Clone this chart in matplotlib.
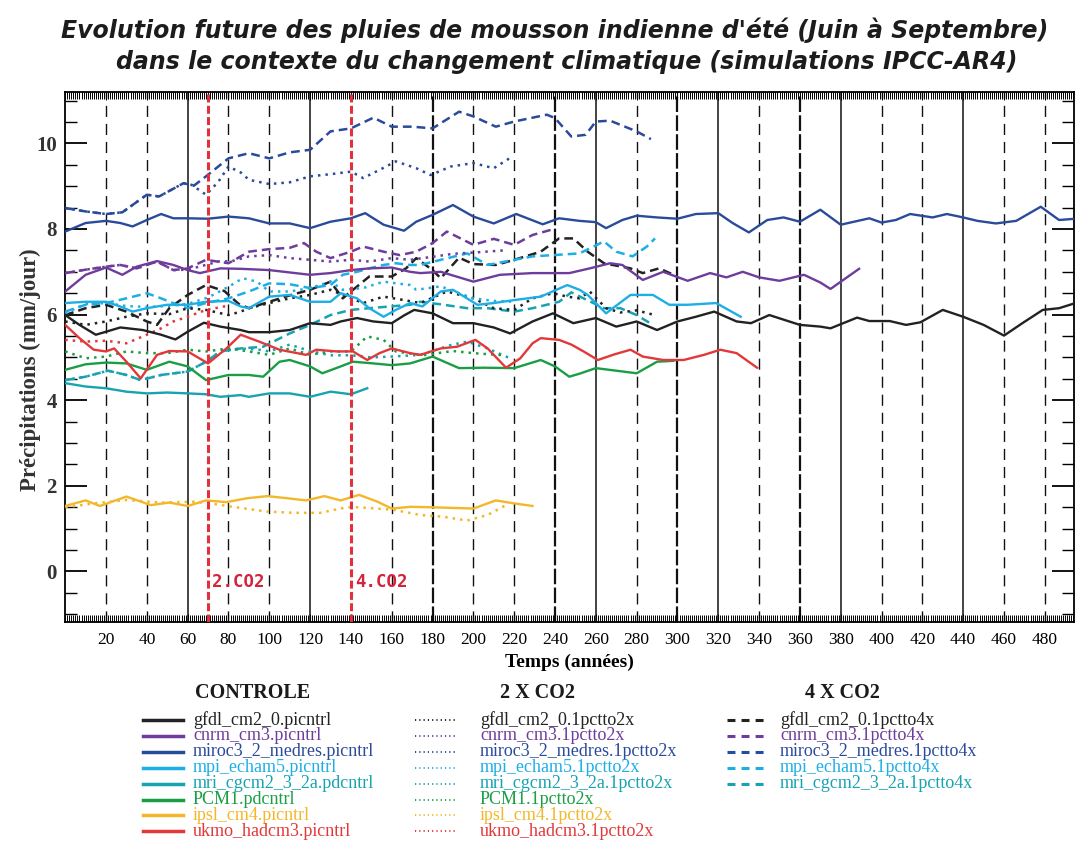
import matplotlib
matplotlib.use("Agg")
import matplotlib.pyplot as plt
from matplotlib.lines import Line2D
from matplotlib.ticker import MultipleLocator, FixedLocator

W, H = 1075, 841

# couleurs des modeles
C_GFDL = "#222222"
C_CNRM = "#6e3c9c"
C_MIROC = "#2a4a9a"
C_MPI = "#1eaee6"
C_MRI = "#17a3b0"
C_PCM = "#1a9e45"
C_IPSL = "#f2b829"
C_UKMO = "#e2383a"

# ---------------- CONTROLE ----------------
gfdl_ctl_t = [0, 7, 15, 20, 27, 38, 47, 54, 60, 68, 76, 86, 90, 100, 110, 120, 130, 135, 143, 151,
              160, 166, 171, 180, 190, 200, 210, 218, 229, 239, 249, 260, 270, 280, 290, 300, 309, 318, 329, 336,
              345, 360, 370, 375, 388, 394, 404, 412, 419, 430, 440, 450, 460, 469, 479, 487, 495]
gfdl_ctl_v = [5.99, 5.76, 5.53, 5.60, 5.70, 5.64, 5.53, 5.42, 5.60, 5.81, 5.72, 5.64, 5.59, 5.59, 5.64, 5.80, 5.76, 5.84, 5.92, 5.84,
              5.80, 5.98, 6.11, 6.03, 5.80, 5.80, 5.70, 5.56, 5.84, 6.03, 5.80, 5.92, 5.72, 5.84, 5.64, 5.84, 5.95, 6.07, 5.84, 5.80,
              5.99, 5.76, 5.72, 5.68, 5.93, 5.85, 5.85, 5.76, 5.82, 6.11, 5.95, 5.76, 5.51, 5.80, 6.11, 6.15, 6.27]

cnrm_ctl_t = [0, 10, 20, 28, 35, 45, 53, 60, 66, 76, 86, 100, 120, 130, 140, 149, 160, 169, 174, 184,
              200, 213, 229, 247, 257, 267, 273, 283, 293, 305, 316, 324, 332, 340, 350, 362, 370, 375, 389]
cnrm_ctl_v = [6.54, 6.93, 7.10, 6.93, 7.12, 7.25, 7.16, 7.04, 6.97, 7.08, 7.07, 7.04, 6.93, 6.97, 7.04, 7.08, 7.10, 7.00, 6.97, 7.00,
              6.77, 6.93, 6.97, 6.97, 7.08, 7.20, 7.16, 6.81, 7.00, 6.79, 6.97, 6.87, 7.00, 6.87, 6.79, 6.93, 6.75, 6.60, 7.07]

miroc_ctl_t = [0, 10, 20, 27, 33, 40, 47, 53, 60, 70, 80, 90, 100, 110, 120, 130, 140, 147, 156, 166,
               172, 180, 190, 200, 210, 221, 234, 242, 252, 260, 265, 273, 280, 290, 300, 309, 320, 327, 335, 344,
               352, 360, 370, 380, 394, 400, 407, 414, 425, 432, 440, 447, 456, 466, 478, 487, 495]
miroc_ctl_v = [7.94, 8.14, 8.19, 8.14, 8.06, 8.21, 8.35, 8.25, 8.25, 8.24, 8.29, 8.25, 8.13, 8.13, 8.02, 8.17, 8.25, 8.37, 8.10, 7.96,
               8.17, 8.33, 8.56, 8.29, 8.13, 8.35, 8.11, 8.25, 8.19, 8.16, 8.02, 8.21, 8.31, 8.27, 8.24, 8.35, 8.37, 8.14, 7.92, 8.21,
               8.27, 8.17, 8.45, 8.10, 8.25, 8.15, 8.21, 8.35, 8.27, 8.35, 8.27, 8.19, 8.13, 8.19, 8.52, 8.21, 8.24]

mpi_ctl_t = [0, 10, 20, 27, 33, 40, 50, 60, 69, 80, 86, 90, 100, 110, 120, 130, 135, 143, 149, 156,
             162, 169, 175, 184, 190, 202, 210, 220, 233, 246, 252, 256, 265, 277, 288, 296, 305, 319, 331]
mpi_ctl_v = [6.27, 6.30, 6.30, 6.19, 6.07, 6.15, 6.23, 6.23, 6.30, 6.32, 6.19, 6.15, 6.42, 6.46, 6.30, 6.30, 6.50, 6.38, 6.15, 5.95,
             6.11, 6.27, 6.19, 6.54, 6.58, 6.23, 6.27, 6.34, 6.42, 6.69, 6.58, 6.46, 6.03, 6.46, 6.46, 6.23, 6.23, 6.27, 5.95]

mri_ctl_t = [0, 10, 20, 30, 40, 50, 60, 69, 76, 86, 90, 100, 110, 120, 130, 140, 148]
mri_ctl_v = [4.40, 4.32, 4.28, 4.20, 4.16, 4.18, 4.16, 4.14, 4.08, 4.12, 4.08, 4.16, 4.16, 4.08, 4.20, 4.14, 4.28]

pcm_ctl_t = [0, 10, 20, 30, 40, 51, 60, 69, 80, 90, 97, 105, 110, 120, 126, 135, 141, 151, 160, 169,
             180, 193, 205, 220, 233, 240, 247, 252, 260, 280, 290, 298]
pcm_ctl_v = [4.71, 4.84, 4.88, 4.86, 4.71, 4.90, 4.79, 4.47, 4.59, 4.59, 4.55, 4.90, 4.94, 4.79, 4.63, 4.79, 4.90, 4.86, 4.82, 4.86,
             5.02, 4.75, 4.76, 4.75, 4.94, 4.79, 4.55, 4.62, 4.75, 4.63, 4.90, 4.92]

ipsl_ctl_t = [0, 10, 17, 30, 42, 51, 60, 69, 79, 89, 99, 109, 118, 127, 135, 144, 153, 160, 169, 180,
              200, 211, 220, 229]
ipsl_ctl_v = [1.53, 1.66, 1.53, 1.75, 1.55, 1.61, 1.53, 1.66, 1.62, 1.71, 1.76, 1.71, 1.66, 1.76, 1.66, 1.79, 1.63, 1.47, 1.51, 1.50,
              1.47, 1.66, 1.59, 1.53]

ukmo_ctl_t = [0, 7, 14, 20, 24, 30, 37, 45, 51, 60, 70, 79, 86, 95, 105, 118, 123, 133, 141, 148,
              154, 160, 169, 174, 184, 192, 201, 207, 216, 223, 229, 233, 242, 248, 254, 261, 269, 277, 283, 293,
              303, 313, 321, 329, 339]
ukmo_ctl_v = [5.76, 5.45, 5.18, 5.14, 5.21, 4.90, 4.51, 5.06, 5.15, 5.14, 4.86, 5.21, 5.53, 5.37, 5.18, 5.06, 5.18, 5.14, 5.14, 4.94,
              5.10, 5.21, 5.10, 5.06, 5.21, 5.25, 5.41, 5.21, 4.76, 4.98, 5.33, 5.45, 5.41, 5.30, 5.14, 4.94, 5.07, 5.18, 5.02, 4.94,
              4.94, 5.06, 5.18, 5.10, 4.76]

# ---------------- 2 X CO2 ----------------
gfdl_2x_t = [0, 10, 20, 30, 40, 51, 60, 69, 80, 86, 90, 100, 110, 120, 130, 136, 146, 156, 166, 174,
             187, 200, 210, 220, 229, 239, 246, 252, 257, 265, 272, 280, 288]
gfdl_2x_v = [5.84, 5.76, 5.84, 5.95, 6.03, 6.01, 6.15, 6.11, 5.99, 6.07, 6.15, 6.27, 6.38, 6.46, 6.58, 6.46, 6.27, 6.42, 6.34, 6.27,
             6.54, 6.38, 6.15, 6.11, 6.38, 6.50, 6.42, 6.38, 6.54, 6.15, 6.05, 6.10, 6.00]

cnrm_2x_t = [0, 10, 20, 27, 35, 45, 53, 60, 68, 76, 81, 90, 100, 110, 120, 130, 140, 149, 160, 169,
             180, 190, 200, 215]
cnrm_2x_v = [6.97, 7.05, 7.12, 7.16, 7.08, 7.24, 7.04, 7.05, 7.15, 7.25, 7.24, 7.36, 7.39, 7.32, 7.28, 7.24, 7.28, 7.24, 7.32, 7.28,
             7.35, 7.42, 7.45, 7.50]

miroc_2x_t = [0, 10, 20, 28, 40, 46, 58, 62, 69, 75, 80, 86, 90, 100, 110, 120, 130, 140, 146, 154,
              162, 172, 179, 189, 200, 210, 219]
miroc_2x_v = [8.49, 8.41, 8.35, 8.39, 8.80, 8.76, 9.07, 9.03, 8.80, 9.10, 9.46, 9.32, 9.15, 9.05, 9.09, 9.23, 9.28, 9.34, 9.19, 9.38,
              9.58, 9.42, 9.26, 9.46, 9.54, 9.42, 9.69]

mpi_2x_t = [0, 10, 20, 30, 40, 50, 60, 70, 80, 87, 94, 100, 110, 120, 130, 136, 146, 156, 169, 172,
            184, 193, 200, 210, 220]
mpi_2x_v = [6.03, 6.25, 6.27, 6.20, 6.18, 6.20, 6.25, 6.40, 6.65, 6.85, 6.77, 6.54, 6.54, 6.62, 6.77, 6.58, 6.62, 6.77, 6.69, 6.58,
            6.66, 6.50, 6.38, 6.32, 6.30]

mri_2x_t = [0, 10, 21, 30, 37, 47, 60, 69, 76, 86, 95, 100, 110, 120, 130, 140, 150, 160, 174, 189,
            197, 207, 218]
mri_2x_v = [4.47, 4.55, 4.69, 4.59, 4.47, 4.59, 4.67, 4.90, 5.14, 5.21, 5.18, 5.14, 5.30, 5.15, 5.05, 5.05, 5.00, 5.02, 5.06, 5.29,
            5.37, 5.21, 4.98]

pcm_2x_t = [0, 10, 20, 30, 40, 50, 60, 69, 80, 90, 100, 110, 120, 130, 140, 148, 156, 162, 175, 190,
            200, 215]
pcm_2x_v = [5.14, 4.98, 5.02, 5.14, 5.10, 5.10, 5.18, 5.14, 5.21, 5.14, 5.06, 5.21, 5.06, 5.14, 5.14, 5.49, 5.41, 5.14, 5.05, 5.15,
            5.10, 5.05]

ipsl_2x_t = [0, 14, 30, 47, 63, 71, 82, 99, 112, 125, 138, 144, 161, 174, 185, 197, 207, 216]
ipsl_2x_v = [1.50, 1.59, 1.67, 1.61, 1.63, 1.59, 1.51, 1.40, 1.37, 1.37, 1.50, 1.50, 1.44, 1.32, 1.28, 1.19, 1.32, 1.55]

ukmo_2x_t = [0, 10, 20, 30, 40, 47, 53, 60, 69, 79]
ukmo_2x_v = [5.41, 5.37, 5.39, 5.33, 5.53, 5.68, 5.84, 5.95, 6.11, 6.20]

# ---------------- 4 X CO2 ----------------
gfdl_4x_t = [0, 10, 20, 30, 40, 45, 51, 60, 69, 78, 85, 90, 100, 110, 120, 130, 136, 140, 149, 160,
             167, 172, 180, 184, 193, 200, 211, 220, 233, 242, 249, 256, 264, 277, 283, 291, 300]
gfdl_4x_v = [5.99, 6.15, 6.23, 6.07, 5.84, 5.76, 6.15, 6.46, 6.69, 6.55, 6.25, 6.15, 6.30, 6.45, 6.58, 6.77, 6.38, 6.54, 6.89, 6.89,
             7.08, 7.32, 7.04, 6.85, 7.33, 7.18, 7.16, 7.28, 7.47, 7.78, 7.78, 7.47, 7.20, 7.08, 6.97, 7.08, 6.89]

cnrm_4x_t = [0, 10, 20, 27, 35, 45, 53, 60, 69, 80, 86, 90, 100, 110, 117, 123, 130, 140, 146, 156,
             164, 172, 180, 187, 200, 210, 220, 229, 238]
cnrm_4x_v = [6.97, 7.05, 7.12, 7.16, 7.08, 7.24, 7.04, 7.08, 7.28, 7.20, 7.36, 7.47, 7.53, 7.56, 7.67, 7.47, 7.32, 7.47, 7.59, 7.47,
             7.39, 7.47, 7.67, 7.94, 7.63, 7.77, 7.63, 7.86, 7.98]

miroc_4x_t = [0, 10, 20, 28, 40, 46, 58, 63, 69, 80, 90, 100, 110, 120, 130, 140, 151, 160, 170, 180,
              193, 200, 211, 220, 236, 240, 248, 255, 260, 267, 280, 287]
miroc_4x_v = [8.49, 8.41, 8.35, 8.39, 8.80, 8.76, 9.07, 9.01, 9.23, 9.65, 9.77, 9.65, 9.79, 9.85, 10.28, 10.35, 10.60, 10.39, 10.39, 10.35,
              10.74, 10.63, 10.39, 10.51, 10.67, 10.59, 10.16, 10.20, 10.51, 10.53, 10.28, 10.10]

mpi_4x_t = [0, 10, 20, 30, 40, 47, 55, 60, 69, 80, 90, 100, 110, 120, 130, 136, 143, 149, 156, 162,
            169, 174, 184, 197, 207, 220, 229, 239, 252, 264, 270, 278, 285, 289]
mpi_4x_v = [6.07, 6.23, 6.27, 6.38, 6.50, 6.38, 6.23, 6.15, 6.27, 6.38, 6.54, 6.73, 6.71, 6.62, 6.69, 6.93, 7.00, 7.08, 7.16, 7.20,
            7.16, 7.16, 7.28, 7.43, 7.16, 7.28, 7.36, 7.39, 7.43, 7.71, 7.47, 7.36, 7.59, 7.78]

mri_4x_t = [0, 10, 21, 30, 37, 47, 60, 69, 76, 86, 97, 102, 110, 120, 130, 140, 149, 159, 169, 174,
            184, 197, 207, 220, 229, 242, 248, 254, 264, 272, 280, 288]
mri_4x_v = [4.47, 4.55, 4.69, 4.59, 4.47, 4.59, 4.67, 4.90, 5.14, 5.21, 5.25, 5.37, 5.56, 5.76, 5.99, 6.11, 6.15, 6.19, 6.23, 6.30,
            6.24, 6.15, 6.15, 6.07, 6.15, 6.30, 6.52, 6.38, 6.15, 6.15, 5.99, 5.76]

controle = [
    ("gfdl_cm2_0.picntrl", gfdl_ctl_t, gfdl_ctl_v, C_GFDL),
    ("cnrm_cm3.picntrl", cnrm_ctl_t, cnrm_ctl_v, C_CNRM),
    ("miroc3_2_medres.picntrl", miroc_ctl_t, miroc_ctl_v, C_MIROC),
    ("mpi_echam5.picntrl", mpi_ctl_t, mpi_ctl_v, C_MPI),
    ("mri_cgcm2_3_2a.pdcntrl", mri_ctl_t, mri_ctl_v, C_MRI),
    ("PCM1.pdcntrl", pcm_ctl_t, pcm_ctl_v, C_PCM),
    ("ipsl_cm4.picntrl", ipsl_ctl_t, ipsl_ctl_v, C_IPSL),
    ("ukmo_hadcm3.picntrl", ukmo_ctl_t, ukmo_ctl_v, C_UKMO),
]
co2_2x = [
    ("gfdl_cm2_0.1pctto2x", gfdl_2x_t, gfdl_2x_v, C_GFDL),
    ("cnrm_cm3.1pctto2x", cnrm_2x_t, cnrm_2x_v, C_CNRM),
    ("miroc3_2_medres.1pctto2x", miroc_2x_t, miroc_2x_v, C_MIROC),
    ("mpi_echam5.1pctto2x", mpi_2x_t, mpi_2x_v, C_MPI),
    ("mri_cgcm2_3_2a.1pctto2x", mri_2x_t, mri_2x_v, C_MRI),
    ("PCM1.1pctto2x", pcm_2x_t, pcm_2x_v, C_PCM),
    ("ipsl_cm4.1pctto2x", ipsl_2x_t, ipsl_2x_v, C_IPSL),
    ("ukmo_hadcm3.1pctto2x", ukmo_2x_t, ukmo_2x_v, C_UKMO),
]
co2_4x = [
    ("gfdl_cm2_0.1pctto4x", gfdl_4x_t, gfdl_4x_v, C_GFDL),
    ("cnrm_cm3.1pctto4x", cnrm_4x_t, cnrm_4x_v, C_CNRM),
    ("miroc3_2_medres.1pctto4x", miroc_4x_t, miroc_4x_v, C_MIROC),
    ("mpi_echam5.1pctto4x", mpi_4x_t, mpi_4x_v, C_MPI),
    ("mri_cgcm2_3_2a.1pctto4x", mri_4x_t, mri_4x_v, C_MRI),
]

# annees des lignes verticales
grid_solid = [60, 120, 260, 320, 380, 440]
grid_heavy = [180, 240, 300, 360]
grid_dash = [20, 40, 80, 100, 160, 200, 220, 280, 340, 400, 420, 460, 480]
co2_marks = [(70, "2.CO2"), (140, "4.CO2")]

STYLE_CTL = dict(linestyle="-", linewidth=1.7)
STYLE_2X = dict(linestyle=(0, (1, 2)), linewidth=1.8)
STYLE_4X = dict(linestyle=(0, (3.5, 2)), linewidth=1.8)

SERIF = ["Liberation Serif", "DejaVu Serif"]

fig = plt.figure(figsize=(W / 100, H / 100), dpi=100)
ax = fig.add_axes([65.2 / W, 1 - 622 / H, (1074 - 65.2) / W, 530 / H])
ax.set_xlim(0, 494.3)
ax.set_ylim(-1.18, 11.2)

for x in grid_solid:
    ax.axvline(x, color="#111111", lw=1.1, zorder=1)
for x in grid_heavy:
    ax.axvline(x, color="#111111", lw=1.6, ls=(0, (7, 1.5)), zorder=1)
for x in grid_dash:
    ax.axvline(x, color="#111111", lw=1.0, ls=(0, (8, 5)), zorder=1)
for x, lab in co2_marks:
    ax.axvline(x, color="#e4303a", lw=2.2, ls=(0, (2.6, 1.1)), zorder=5)
    ax.text(x + 2, -0.25, lab, color="#d4233a", fontsize=12.5, fontweight="bold",
            family="DejaVu Sans Mono", va="center", ha="left", zorder=6)

for lab, t, v, c in co2_4x:
    ax.plot(t, v, color=c, zorder=3, **STYLE_4X)
for lab, t, v, c in co2_2x:
    ax.plot(t, v, color=c, zorder=3, **STYLE_2X)
for lab, t, v, c in controle:
    ax.plot(t, v, color=c, zorder=4, **STYLE_CTL)

# ticks
ax.xaxis.set_major_locator(FixedLocator(range(20, 481, 20)))
ax.xaxis.set_minor_locator(MultipleLocator(1))
ax.yaxis.set_major_locator(FixedLocator([0, 2, 4, 6, 8, 10]))
ax.yaxis.set_minor_locator(MultipleLocator(0.5))
ax.tick_params(axis="x", which="both", direction="in", top=True, bottom=True, pad=7)
ax.tick_params(axis="x", which="major", length=6, width=0.8)
ax.tick_params(axis="x", which="minor", length=5, width=0.7)
ax.tick_params(axis="y", which="both", direction="in", left=True, right=True, pad=6)
ax.tick_params(axis="y", which="major", length=16, width=1.3)
ax.tick_params(axis="y", which="minor", length=8.5, width=1.0)
for s in ax.spines.values():
    s.set_linewidth(1.3)

for lbl in ax.get_xticklabels():
    lbl.set_family(SERIF)
    lbl.set_fontsize(12.5)
for lbl in ax.get_yticklabels():
    lbl.set_family(SERIF)
    lbl.set_fontsize(15)
    lbl.set_fontweight("bold")
    lbl.set_color("#333333")

ax.set_xlabel("Temps (années)", family=SERIF, fontsize=14, fontweight="bold", labelpad=4)
fig.text(30 / W, 1 - 370 / H, "Précipitations (mm/jour)", rotation=90, ha="center", va="center",
         family=SERIF, fontsize=16.5, fontweight="bold", color="#333333")

# titre
fig.text(555 / W, 1 - 30 / H, "Evolution future des pluies de mousson indienne d'été (Juin à Septembre)",
         ha="center", va="center", fontsize=17, fontweight="bold", style="italic", color="#1c1c1c")
fig.text(567 / W, 1 - 62 / H, "dans le contexte du changement climatique (simulations IPCC-AR4)",
         ha="center", va="center", fontsize=17, fontweight="bold", style="italic", color="#1c1c1c")

# legende manuelle en trois colonnes
def legend_col(entries, style, x_line, x_text, y0, title, x_title, dy=15.9):
    fig.text(x_title / W, 1 - 693 / H, title, ha="left", va="center", family=SERIF,
             fontsize=14.5, fontweight="bold", color="#1a1a1a")
    for i, (lab, t, v, c) in enumerate(entries):
        y = 1 - (y0 + i * dy) / H
        fig.add_artist(Line2D([x_line[0] / W, x_line[1] / W], [y, y], color=c,
                              transform=fig.transFigure, **style))
        fig.text(x_text / W, y, lab, ha="left", va="center", family=SERIF, fontsize=13, color=c)

legend_col(controle, dict(linestyle="-", linewidth=2.5), (143, 183), 193, 720, "CONTROLE", 195)
legend_col(co2_2x, dict(linestyle=(0, (0.6, 1.6)), linewidth=1.4), (415, 455), 480, 720, "2 X CO2", 500)
legend_col(co2_4x, dict(linestyle=(0, (2.6, 2.0)), linewidth=2.2), (727, 768), 780, 720, "4 X CO2", 805)

fig.savefig("out.png", dpi=100)
